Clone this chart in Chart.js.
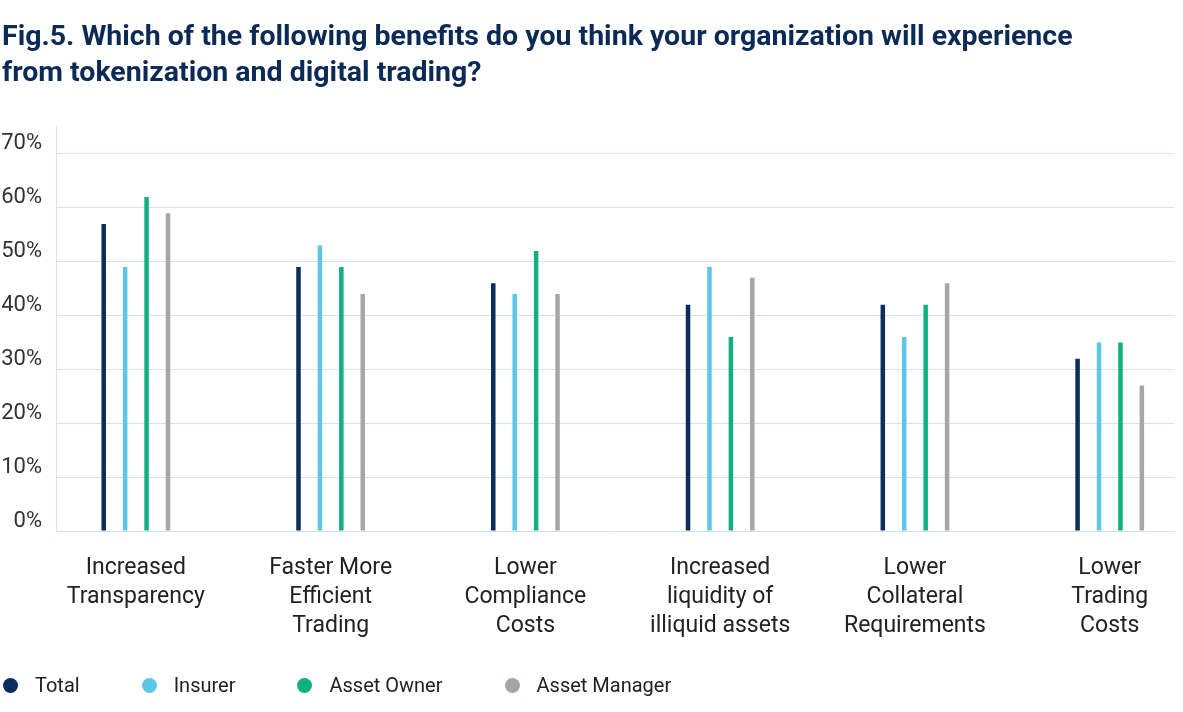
<!DOCTYPE html>
<html><head><meta charset="utf-8">
<script src="https://cdn.jsdelivr.net/npm/chart.js@4/dist/chart.umd.min.js"></script>
<style>
html,body{margin:0;padding:0;background:#fff;}
#wrap{position:relative;width:1183px;height:712px;}
#legend{position:absolute;left:3px;top:672px;height:26px;display:flex;align-items:center;font-family:Roboto,sans-serif;font-size:20px;color:#222;}
.item{display:flex;align-items:center;margin-right:62px;}
.dot{width:15px;height:15px;border-radius:50%;margin-right:17px;}
</style></head><body>
<div id="wrap"><canvas id="c" width="1183" height="712"></canvas><div id="legend"></div></div>
<script>
const titleLines = ["Fig.5. Which of the following benefits do you think your organization will experience", "from tokenization and digital trading?"];
const categories = [["Increased","Transparency"],["Faster More","Efficient","Trading"],["Lower","Compliance","Costs"],["Increased","liquidity of","illiquid assets"],["Lower","Collateral","Requirements"],["Lower","Trading","Costs"]];
const seriesNames = ["Total","Insurer","Asset Owner","Asset Manager"];
const totalValues = [57,49,46,42,42,32];
const insurerValues = [49,53,44,49,36,35];
const assetOwnerValues = [62,49,52,36,42,35];
const assetManagerValues = [59,44,44,47,46,27];
const yTickValues = [0,10,20,30,40,50,60,70];
const barColors = ['#0b2d5b','#5bc6e6','#10b07f','#a6a6a6'];
const dotColors = ['#0b2d5b','#5bc6e6','#10b07f','#a2a6ac'];

const allValues = [totalValues, insurerValues, assetOwnerValues, assetManagerValues];
const gridColor = '#d5e2ec';

const datasets = seriesNames.map((name, s) => ({
  label: name,
  data: allValues[s].map((v, i) => ({x: i, y: v})),
  backgroundColor: barColors[s],
  borderWidth: 0,
  categoryPercentage: 0.44,
  barPercentage: 0.21
}));

new Chart(document.getElementById('c'), {
  type: 'bar',
  data: { datasets },
  options: {
    responsive: false,
    animation: false,
    devicePixelRatio: 1,
    layout: { padding: { left: 2, right: 9, top: 0, bottom: 48 } },
    plugins: {
      legend: { display: false },
      tooltip: { enabled: false },
      title: {
        display: true,
        text: titleLines,
        align: 'start',
        color: '#0b2a55',
        font: { family: 'Roboto', size: 28.5, weight: 'bold', lineHeight: 1.263 },
        padding: { top: 20, bottom: 35 }
      }
    },
    scales: {
      x: {
        type: 'linear',
        offset: false,
        min: -0.41,
        max: 5.33,
        grid: { display: false, drawTicks: false, offset: false },
        border: { display: true, color: gridColor, width: 1 },
        afterBuildTicks: (scale) => { scale.ticks = categories.map((_, i) => ({ value: i })); },
        ticks: {
          autoSkip: false,
          maxRotation: 0,
          minRotation: 0,
          padding: 23,
          color: '#222',
          font: { family: 'Roboto', size: 23, lineHeight: 1.26 },
          callback: (v) => categories[v]
        }
      },
      y: {
        min: 0,
        max: 75,
        afterFit: (scale) => { scale.width = 54; },
        afterBuildTicks: (scale) => { scale.ticks = yTickValues.map(v => ({ value: v })); },
        grid: { color: gridColor, drawTicks: false, lineWidth: 1 },
        border: { display: true, color: gridColor, width: 1 },
        ticks: {
          padding: 14,
          labelOffset: -10,
          color: '#333',
          font: { family: 'Roboto', size: 22 },
          callback: (v) => v + '%'
        }
      }
    }
  }
});

const legend = document.getElementById('legend');
seriesNames.forEach((name, s) => {
  const item = document.createElement('div');
  item.className = 'item';
  const dot = document.createElement('span');
  dot.className = 'dot';
  dot.style.background = dotColors[s];
  const txt = document.createElement('span');
  txt.textContent = name;
  item.appendChild(dot); item.appendChild(txt);
  legend.appendChild(item);
});
</script>
</body></html>
